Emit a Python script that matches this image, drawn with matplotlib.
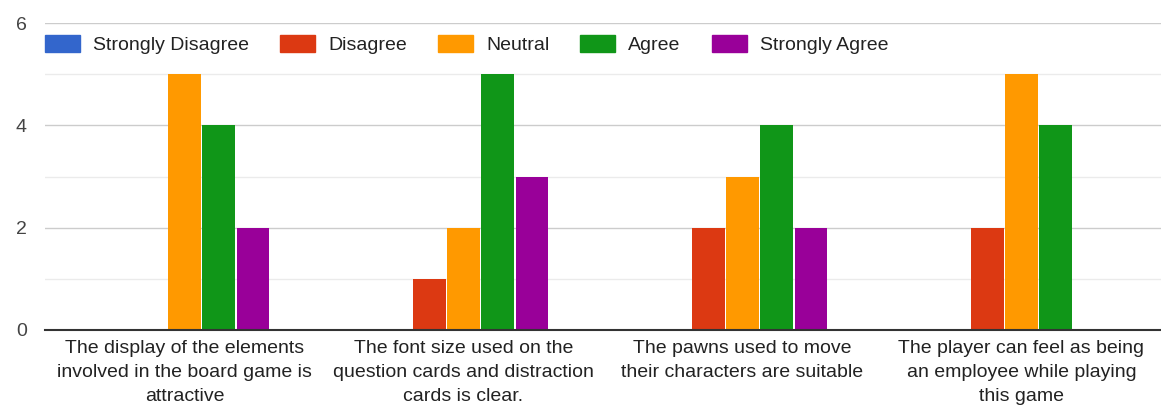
import numpy as np
import matplotlib.pyplot as plt
from matplotlib.patches import Patch

categories = [
    "The display of the elements\ninvolved in the board game is\nattractive",
    "The font size used on the\nquestion cards and distraction\ncards is clear.",
    "The pawns used to move\ntheir characters are suitable",
    "The player can feel as being\nan employee while playing\nthis game",
]
series = ["Strongly Disagree", "Disagree", "Neutral", "Agree", "Strongly Agree"]
colors = ["#3366cc", "#dc3912", "#ff9900", "#109618", "#990099"]
strongly_disagree = [0, 0, 0, 0]
disagree = [0, 1, 2, 2]
neutral = [5, 2, 3, 5]
agree = [4, 5, 4, 4]
strongly_agree = [2, 3, 2, 0]
values = [strongly_disagree, disagree, neutral, agree, strongly_agree]

plt.rcParams['font.family'] = ['Liberation Sans', 'DejaVu Sans']

fig = plt.figure(figsize=(11.61, 4.07), dpi=100)
ax = fig.add_axes([45 / 1161, 1 - 330 / 407, 1 - 45 / 1161, (330 - 23) / 407])

x = np.arange(len(categories))
step = 0.122
width = 0.115
for i, (name, vals, c) in enumerate(zip(series, values, colors)):
    ax.bar(x + (i - 2) * step, vals, width, color=c, label=name, zorder=3)

ax.set_xlim(-0.5, len(categories) - 0.5)
ax.set_ylim(0, 6)
ax.set_yticks([0, 2, 4, 6])
ax.set_yticks([1, 3, 5], minor=True)
ax.grid(axis='y', which='major', color='#cccccc', lw=1, zorder=0)
ax.grid(axis='y', which='minor', color='#ebebeb', lw=1, zorder=0)
ax.tick_params(axis='y', which='both', length=0, pad=13, labelsize=14, labelcolor='#444444')
ax.tick_params(axis='x', length=0, pad=7, labelsize=14, labelcolor='#222222')
ax.set_xticks(x)
ax.set_xticklabels(categories, linespacing=1.55)
for s in ['top', 'right', 'left']:
    ax.spines[s].set_visible(False)
ax.spines['bottom'].set_color('#333333')
ax.spines['bottom'].set_linewidth(1.5)
ax.spines['bottom'].set_zorder(4)

handles = [Patch(color=c, label=n) for n, c in zip(series, colors)]
ax.legend(handles=handles, ncol=5, loc='upper left', bbox_to_anchor=(0, 0.96),
          frameon=False, fontsize=14, handlelength=1.8, handleheight=0.95,
          columnspacing=1.6, handletextpad=0.67, borderaxespad=0, borderpad=0,
          labelcolor='#222222')

fig.savefig('out.png', dpi=100, facecolor='white')
